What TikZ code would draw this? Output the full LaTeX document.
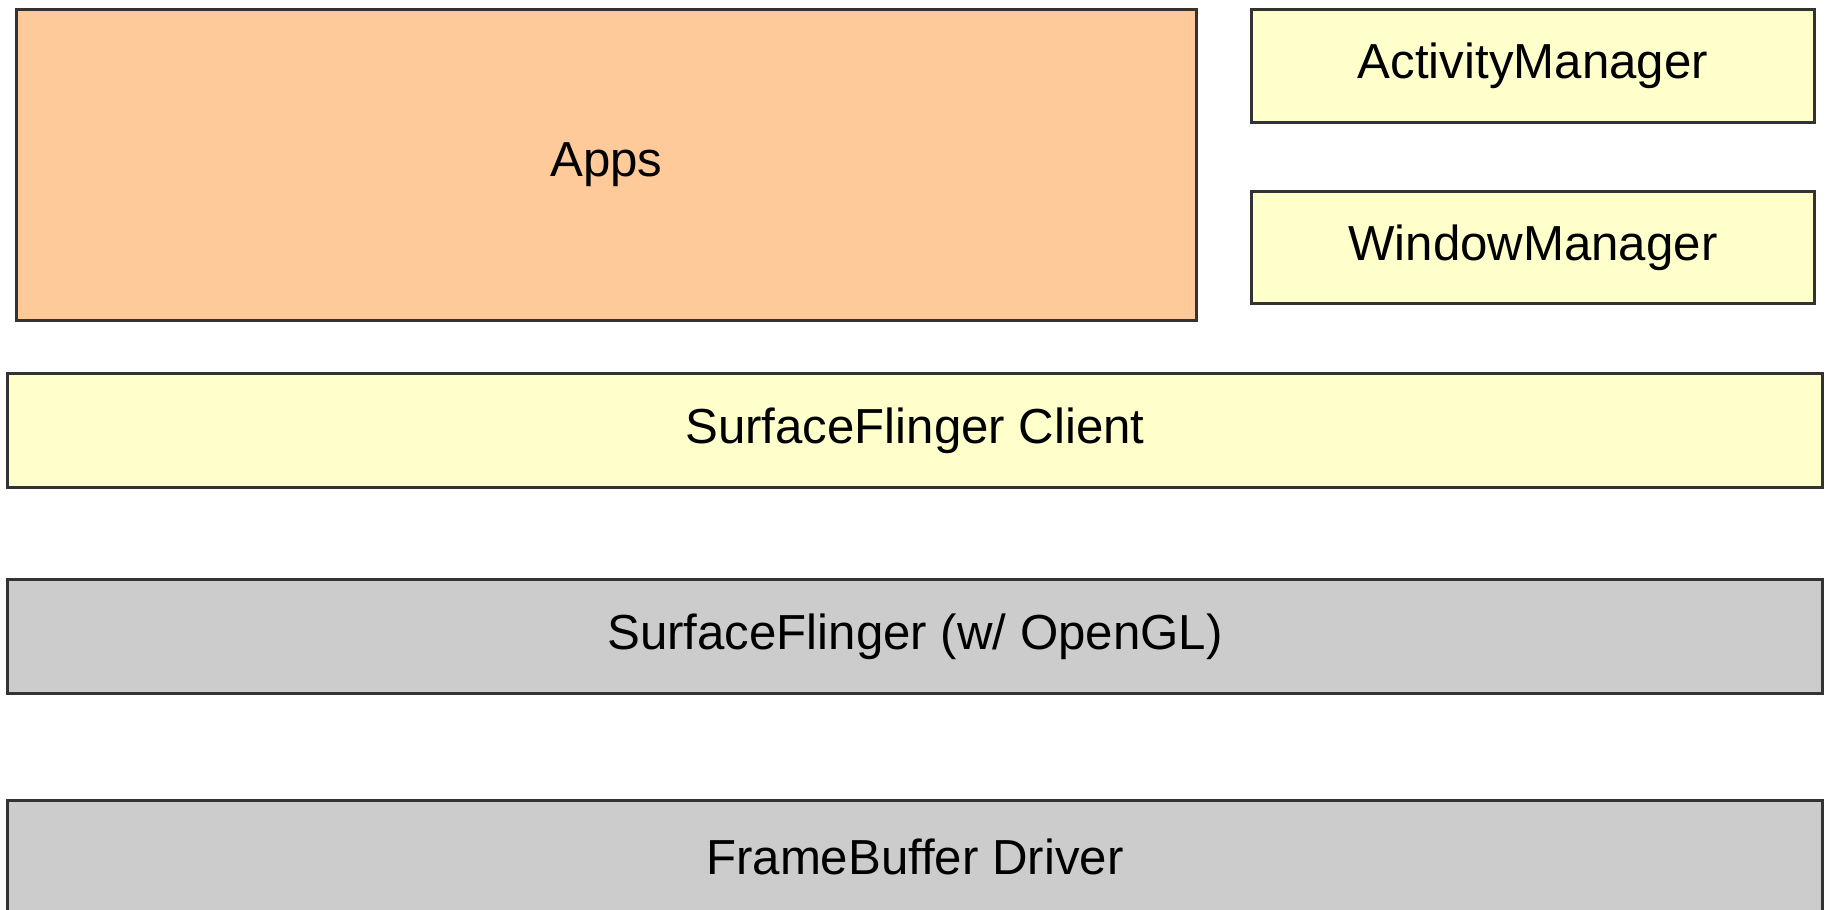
\documentclass[tikz,border=0pt]{standalone}
\usepackage{fontspec}
\setmainfont{Liberation Sans}
\definecolor{appsorange}{HTML}{FFCA99}
\definecolor{svcyellow}{HTML}{FFFFCC}
\definecolor{kernelgray}{HTML}{CCCCCC}
\tikzstyle{layer}=[draw=black!80,line width=0.8pt,anchor=north west,inner sep=0pt,font=\fontsize{14}{17}\selectfont]

\begin{document}
\begin{tikzpicture}
\useasboundingbox (0,0) rectangle (18.26,9.10);

\node[layer,fill=appsorange,minimum width=11.80cm,minimum height=3.11cm] (apps) at (0.15,9.02) {Apps};
\node[layer,fill=svcyellow,minimum width=5.63cm,minimum height=1.13cm] (actmgr) at (12.50,9.02) {ActivityManager};
\node[layer,fill=svcyellow,minimum width=5.63cm,minimum height=1.12cm] (winmgr) at (12.50,7.20) {WindowManager};

\node[layer,fill=svcyellow,minimum width=18.15cm,minimum height=1.14cm] (sfclient) at (0.06,5.38) {SurfaceFlinger Client};
\node[layer,fill=kernelgray,minimum width=18.15cm,minimum height=1.14cm] (sf) at (0.06,3.32) {SurfaceFlinger (w/ OpenGL)};
\node[layer,fill=kernelgray,minimum width=18.15cm,minimum height=1.14cm] (fb) at (0.06,1.11) {FrameBuffer Driver};

\end{tikzpicture}
\end{document}
